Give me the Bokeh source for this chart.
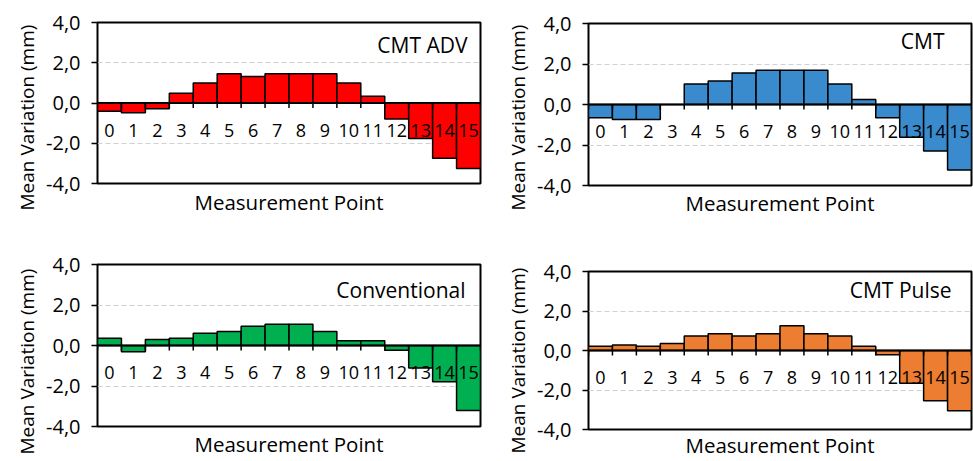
from bokeh.plotting import figure
from bokeh.models import Range1d, FixedTicker, Span, Title
from bokeh.layouts import column, row
from bokeh.embed import file_html
from bokeh.resources import INLINE
from bokeh.core.properties import value

categories = ["0", "1", "2", "3", "4", "5", "6", "7", "8", "9", "10", "11", "12", "13", "14", "15"]
titles = ["CMT ADV", "CMT", "Conventional", "CMT Pulse"]
cmt_adv = [-0.41, -0.49, -0.29, 0.49, 0.99, 1.45, 1.32, 1.45, 1.45, 1.45, 0.99, 0.34, -0.80, -1.77, -2.75, -3.25]
cmt = [-0.66, -0.74, -0.74, 0.0, 1.01, 1.16, 1.55, 1.69, 1.69, 1.69, 1.01, 0.25, -0.66, -1.62, -2.30, -3.24]
conventional = [0.36, -0.31, 0.30, 0.36, 0.61, 0.69, 0.95, 1.05, 1.05, 0.69, 0.23, 0.23, -0.23, -1.11, -1.79, -3.21]
cmt_pulse = [0.21, 0.28, 0.21, 0.36, 0.74, 0.85, 0.74, 0.85, 1.25, 0.85, 0.74, 0.21, -0.21, -1.66, -2.54, -3.05]
y_ticks = [-4, -2, 0, 2, 4]
y_tick_labels = ["-4,0", "-2,0", "0,0", "2,0", "4,0"]
x_title = "Measurement Point"
y_title = "Mean Variation (mm)"

FONT = "Open Sans"
series = [cmt_adv, cmt, conventional, cmt_pulse]
colors = ["#FF0000", "#3A8BCD", "#00B050", "#ED7D31"]
# (width, height, left, right, top, bottom, title_dx, title_dy, xlabel_standoff, ylabel_offset)
geom = [
    (488, 240, 96, 8, 22, 57, -13, 22, 4, -27),
    (485, 240, 98, 2, 23, 55, -27, 17, 3, -25),
    (488, 221, 97, 5, 24, 35, -15, 25, 3, -28),
    (485, 221, 100, 1, 31, 29, -20, 18, 1, -24),
]


def make_panel(vals, color, title, g):
    w, h, bl, br, bt, bb, tdx, tdy, xls, ylo = g
    n = len(categories)
    xs = list(range(n))
    p = figure(width=w, height=h, output_backend="svg", toolbar_location=None,
               x_range=Range1d(-0.5, n - 0.5), y_range=Range1d(y_ticks[0], y_ticks[-1]),
               min_border_left=bl, min_border_right=br, min_border_top=bt, min_border_bottom=bb)
    p.background_fill_color = "white"
    p.border_fill_color = "white"
    p.outline_line_color = "black"
    p.outline_line_width = 2
    p.xgrid.visible = False
    p.ygrid.grid_line_color = "#D0D0D0"
    p.ygrid.grid_line_dash = "5 3"
    p.ygrid.grid_line_width = 1.2
    p.ygrid.ticker = FixedTicker(ticks=y_ticks)

    p.yaxis.ticker = FixedTicker(ticks=y_ticks)
    p.yaxis.major_label_overrides = {t: l for t, l in zip(y_ticks, y_tick_labels)}
    p.yaxis.minor_tick_line_color = None
    p.yaxis.major_tick_out = 6
    p.yaxis.major_tick_in = 0
    p.yaxis.major_tick_line_color = "black"
    p.yaxis.major_tick_line_width = 1.5
    p.yaxis.axis_line_color = None
    p.yaxis.major_label_standoff = 11
    p.yaxis.major_label_text_font = FONT
    p.yaxis.major_label_text_font_size = "20px"
    p.yaxis.major_label_text_color = "black"
    p.add_layout(Title(text=y_title, align="left", offset=ylo, standoff=8,
                       text_font=FONT, text_font_size="19px", text_font_style="normal",
                       text_color="black"), "left")

    p.xaxis.ticker = FixedTicker(ticks=[])
    p.xaxis.axis_line_color = None
    p.xaxis.major_tick_line_color = None
    p.xaxis.minor_tick_line_color = None
    p.xaxis.major_label_standoff = 0
    p.xaxis.axis_label = x_title
    p.xaxis.axis_label_text_font = FONT
    p.xaxis.axis_label_text_font_size = "20.5px"
    p.xaxis.axis_label_text_font_style = "normal"
    p.xaxis.axis_label_text_color = "black"
    p.xaxis.axis_label_standoff = xls

    p.vbar(x=xs, top=vals, bottom=0, width=1.0, fill_color=color,
           line_color="black", line_width=1.5)
    # category axis ticks on the zero line (between categories)
    bounds = [i - 0.5 for i in range(n + 1)]
    tick_len = (y_ticks[-1] - y_ticks[0]) * 5.0 / 161.0
    p.segment(x0=bounds, y0=[0] * len(bounds), x1=bounds, y1=[-tick_len] * len(bounds),
              line_color="black", line_width=1.5)
    p.add_layout(Span(location=0, dimension="width", line_color="black", line_width=2))
    p.text(x=xs, y=[0] * n, text=categories, y_offset=27, text_align="center",
           text_baseline="middle", text_font=value(FONT), text_font_size="18px",
           text_color="black")
    p.text(x=[n - 0.5], y=[y_ticks[-1]], text=[title], x_offset=tdx, y_offset=tdy,
           text_align="right", text_baseline="middle", text_font=value(FONT),
           text_font_size="21px", text_color="black")
    return p


panels = [make_panel(v, c, t, g) for v, c, t, g in zip(series, colors, titles, geom)]
layout = row(column(panels[0], panels[2]), column(panels[1], panels[3]))
open("out.html", "w").write(file_html(layout, INLINE))
